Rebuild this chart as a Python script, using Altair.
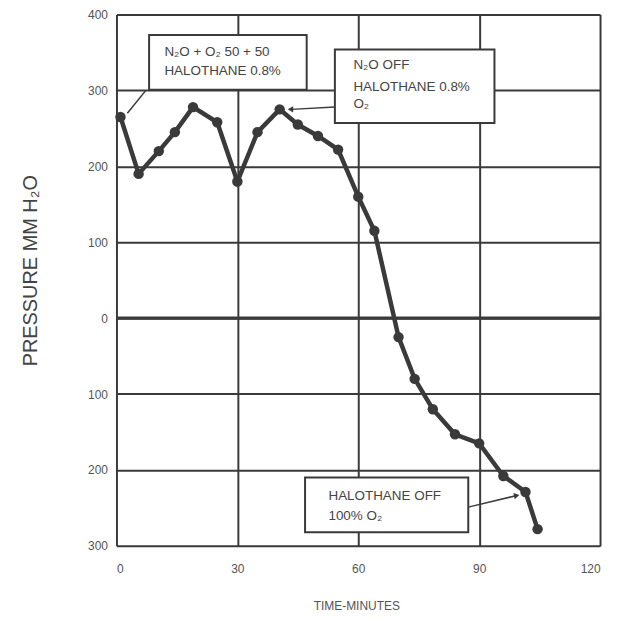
import altair as alt
import pandas as pd

# measured series
minutes = [1, 5.5, 10.5, 14.5, 19, 25, 30, 35, 40.5, 45, 50, 55, 60, 64, 70, 74, 78.5, 84, 90, 96, 101.5, 104.5]
pressure = [265, 190, 220, 245, 278, 258, 180, 245, 275, 255, 240, 222, 160, 115, -25, -80, -120, -153, -165, -208, -229, -278]

x_ticks = [0, 30, 60, 90, 120]
y_ticks = [400, 300, 200, 100, 0, -100, -200, -300]

# annotation boxes (data coordinates)
box_x1 = [8.1, 54.2, 46.8]
box_x2 = [47.2, 93.8, 87.3]
box_y1 = [373, 354, -210]
box_y2 = [301, 257, -282]

label_text = ["N₂O + O₂ 50 + 50", "HALOTHANE 0.8%",
              "N₂O OFF", "HALOTHANE 0.8%", "O₂",
              "HALOTHANE OFF", "100% O₂"]
label_x = [11.9, 11.9, 58.8, 58.8, 58.8, 52.6, 52.6]
label_y = [351, 325, 334, 304, 282, -235, -261]

lead_x1 = [7.3, 54.2, 87.3]
lead_y1 = [300, 278, -249]
lead_x2 = [2.7, 43.4, 99.1]
lead_y2 = [270, 275, -234]
arrow_angle = [0, 270, 77]
has_head = [False, True, True]

df = pd.DataFrame({"t": minutes, "p": pressure})
boxes = pd.DataFrame({"x1": box_x1, "x2": box_x2, "y1": box_y1, "y2": box_y2})
labels = pd.DataFrame({"x": label_x, "y": label_y, "txt": label_text})
leads = pd.DataFrame({"x1": lead_x1, "y1": lead_y1, "x2": lead_x2, "y2": lead_y2,
                      "ang": arrow_angle, "head": has_head})

INK = "#3a3a3a"
FONT = "Liberation Sans"

xs = alt.Scale(domain=[0, 120], nice=False, zero=False)
ys = alt.Scale(domain=[-300, 400], nice=False, zero=False)

xax = alt.Axis(values=x_ticks, grid=True, gridColor=INK, gridWidth=2, gridOpacity=1,
               domain=False, ticks=False, labelPadding=18, labelFontSize=12,
               labelColor="#555", labelFont=FONT, title="TIME-MINUTES",
               titleFont=FONT, titleFontSize=12, titleFontWeight="normal", titleColor="#555",
               titleX=241, titleY=60, titleBaseline="middle", titleAlign="center")
yax = alt.Axis(values=y_ticks, grid=True, gridColor=INK, gridWidth=2, gridOpacity=1,
               domain=False, ticks=False, labelPadding=9, labelFontSize=12,
               labelColor="#555", labelFont=FONT, labelExpr="abs(datum.value)",
               title="PRESSURE MM H₂O", titleFont=FONT, titleFontSize=20,
               titleFontWeight="normal", titleColor="#444", titleAngle=-90,
               titleX=-86, titleY=257, titleBaseline="middle", titleAlign="center")

base_line = alt.Chart(df).mark_line(color=INK, strokeWidth=4.5).encode(
    x=alt.X("t:Q", scale=xs, axis=xax),
    y=alt.Y("p:Q", scale=ys, axis=yax),
)
pts = alt.Chart(df).mark_circle(color=INK, size=110, opacity=1).encode(
    x=alt.X("t:Q", scale=xs), y=alt.Y("p:Q", scale=ys))

zero = alt.Chart(pd.DataFrame({"z": [0]})).mark_rule(color=INK, strokeWidth=3.5).encode(
    y=alt.Y("z:Q", scale=ys))

rects = alt.Chart(boxes).mark_rect(fill="white", stroke=INK, strokeWidth=2).encode(
    x=alt.X("x1:Q", scale=xs), x2="x2:Q",
    y=alt.Y("y1:Q", scale=ys), y2="y2:Q")

texts = alt.Chart(labels).mark_text(align="left", baseline="middle", fontSize=13.5,
                                     font=FONT, color="#444").encode(
    x=alt.X("x:Q", scale=xs), y=alt.Y("y:Q", scale=ys), text="txt:N")

lead_rules = alt.Chart(leads).mark_rule(color=INK, strokeWidth=1.5).encode(
    x=alt.X("x1:Q", scale=xs), x2="x2:Q",
    y=alt.Y("y1:Q", scale=ys), y2="y2:Q")

heads = alt.Chart(leads).transform_filter("datum.head").mark_point(
    shape="triangle", filled=True, color=INK, size=40, opacity=1).encode(
    x=alt.X("x2:Q", scale=xs), y=alt.Y("y2:Q", scale=ys),
    angle=alt.Angle("ang:Q", scale=None))

chart = alt.layer(base_line, zero, rects, texts, lead_rules, heads, pts).properties(
    width=486, height=534,
    padding={"left": 109, "top": 5, "right": 10, "bottom": 72},
    autosize=alt.AutoSizeParams(type="none"),
).configure_view(stroke=INK, strokeWidth=2.5).configure(background="white")

chart.save("out.html", embed_options={"renderer": "svg", "actions": False})
